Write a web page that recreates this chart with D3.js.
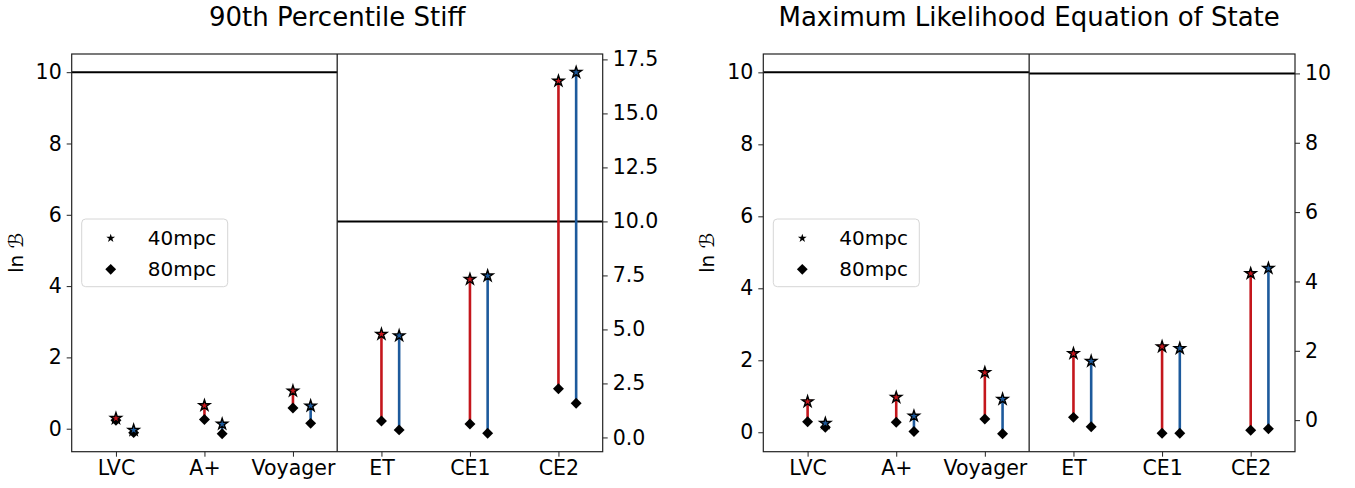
<!DOCTYPE html>
<html>
<head>
<meta charset="utf-8">
<script src="https://cdnjs.cloudflare.com/ajax/libs/d3/7.8.5/d3.min.js"></script>
<style>
body { margin: 0; background: #fff; }
text { font-family: "DejaVu Sans", sans-serif; fill: #000; }
</style>
</head>
<body>
<script>
var detectors = ["LVC", "A+", "Voyager", "ET", "CE1", "CE2"];

// 90th percentile stiff (LVC..Voyager on left axis, ET..CE2 on right axis)
var stiffRed40  = [0.29, 0.65, 1.06, 4.78, 7.32, 16.5];
var stiffRed80  = [0.24, 0.26, 0.58, 0.76, 0.62, 2.25];
var stiffBlue40 = [-0.04, 0.13, 0.64, 4.71, 7.48, 16.9];
var stiffBlue80 = [-0.11, -0.14, 0.15, 0.35, 0.19, 1.58];

// maximum likelihood EOS
var mlRed40  = [0.85, 0.97, 1.66, 1.92, 2.12, 4.23];
var mlRed80  = [0.29, 0.28, 0.37, 0.08, -0.38, -0.29];
var mlBlue40 = [0.25, 0.45, 0.92, 1.70, 2.07, 4.38];
var mlBlue80 = [0.14, 0.02, -0.04, -0.19, -0.38, -0.25];

var legendLabels = ["40mpc", "80mpc"];
var threshold = 10;

var width = 1355, height = 488;
var top_ = 54, bottom = 451.7;
var red = "#c4161c", blue = "#1d5a9c";

var svg = d3.select("body").append("svg")
    .attr("width", width)
    .attr("height", height);

var panels = [
  {title: "90th Percentile Stiff", left: 71.7, right: 602.7,
   red40: stiffRed40, red80: stiffRed80, blue40: stiffBlue40, blue80: stiffBlue80,
   yLeft: [-0.645, 10.51], yRight: [-0.66, 17.75],
   leftTicks: [0, 2, 4, 6, 8, 10], rightTicks: [0, 2.5, 5, 7.5, 10, 12.5, 15, 17.5], rightFmt: ".1f"},
  {title: "Maximum Likelihood Equation of State", left: 763.3, right: 1295,
   red40: mlRed40, red80: mlRed80, blue40: mlBlue40, blue80: mlBlue80,
   yLeft: [-0.54, 10.51], yRight: [-0.91, 10.56],
   leftTicks: [0, 2, 4, 6, 8, 10], rightTicks: [0, 2, 4, 6, 8, 10], rightFmt: "d"}
];

var star = d3.symbol().type(d3.symbolStar).size(38);
var diamond = d3.symbol().type(d3.symbolSquare).size(60);

panels.forEach(function(p) {
  var g = svg.append("g");

  var x = d3.scaleLinear().domain([-0.5, 5.5]).range([p.left, p.right]);
  var yL = d3.scaleLinear().domain(p.yLeft).range([bottom, top_]);
  var yR = d3.scaleLinear().domain(p.yRight).range([bottom, top_]);
  // first three detectors read the left axis, the rest the right one
  function yOf(i, v) { return i < 3 ? yL(v) : yR(v); }

  // threshold lines
  g.append("line")
      .attr("x1", x(-0.5)).attr("x2", x(2.5))
      .attr("y1", yL(threshold)).attr("y2", yL(threshold))
      .attr("stroke", "#000").attr("stroke-width", 2);
  g.append("line")
      .attr("x1", x(2.5)).attr("x2", x(5.5))
      .attr("y1", yR(threshold)).attr("y2", yR(threshold))
      .attr("stroke", "#000").attr("stroke-width", 2);

  g.append("line")
      .attr("x1", x(2.5)).attr("x2", x(2.5))
      .attr("y1", top_).attr("y2", bottom)
      .attr("stroke", "#222").attr("stroke-width", 1.3);

  var series = [
    {c: red, off: 0, hi: p.red40, lo: p.red80},
    {c: blue, off: 0.2, hi: p.blue40, lo: p.blue80}
  ];

  series.forEach(function(s) {
    var pts = detectors.map(function(d, i) {
      return {x: x(i + s.off), y40: yOf(i, s.hi[i]), y80: yOf(i, s.lo[i])};
    });

    g.append("g").selectAll("line")
        .data(pts)
        .enter().append("line")
        .attr("x1", function(d) { return d.x; })
        .attr("x2", function(d) { return d.x; })
        .attr("y1", function(d) { return d.y40; })
        .attr("y2", function(d) { return d.y80; })
        .attr("stroke", s.c)
        .attr("stroke-width", 2.6);

    g.append("g").selectAll("path")
        .data(pts)
        .enter().append("path")
        .attr("d", diamond)
        .attr("transform", function(d) { return "translate(" + d.x + "," + d.y80 + ") rotate(45)"; })
        .attr("fill", "#000");

    g.append("g").selectAll("path")
        .data(pts)
        .enter().append("path")
        .attr("d", star)
        .attr("transform", function(d) { return "translate(" + d.x + "," + d.y40 + ")"; })
        .attr("fill", s.c)
        .attr("stroke", "#000")
        .attr("stroke-width", 1.4);
  });

  // axes
  var xAxis = d3.axisBottom(x)
      .tickValues(d3.range(detectors.length))
      .tickFormat(function(i) { return detectors[i]; })
      .tickSize(5).tickPadding(4);
  var gx = g.append("g").attr("transform", "translate(0," + bottom + ")").call(xAxis);

  var gl = g.append("g").attr("transform", "translate(" + p.left + ",0)")
      .call(d3.axisLeft(yL).tickValues(p.leftTicks).tickFormat(d3.format("d")).tickSize(5).tickPadding(5));

  var gr = g.append("g").attr("transform", "translate(" + p.right + ",0)")
      .call(d3.axisRight(yR).tickValues(p.rightTicks).tickFormat(d3.format(p.rightFmt)).tickSize(5).tickPadding(5));

  [gx, gl, gr].forEach(function(a) {
    a.select(".domain").remove();
    a.selectAll("line").attr("stroke", "#222");
    a.selectAll("text").style("font-size", "20.5px").attr("fill", "#000");
  });

  g.append("rect")
      .attr("x", p.left).attr("y", top_)
      .attr("width", p.right - p.left).attr("height", bottom - top_)
      .attr("fill", "none").attr("stroke", "#222").attr("stroke-width", 1.2);

  g.append("text")
      .attr("x", (p.left + p.right) / 2)
      .attr("y", 26)
      .attr("text-anchor", "middle")
      .style("font-size", "26px")
      .text(p.title);

  g.append("text")
      .attr("transform", "translate(" + (p.left - 49) + "," + ((top_ + bottom) / 2) + ") rotate(-90)")
      .attr("text-anchor", "middle")
      .style("font-size", "20px")
      .text("ln \u212C");

  // legend
  var lg = g.append("g").attr("transform", "translate(" + (p.left + 10) + ",219)");
  lg.append("rect")
      .attr("width", 146).attr("height", 67.7)
      .attr("rx", 4)
      .attr("fill", "#fff").attr("fill-opacity", 0.8)
      .attr("stroke", "#d6d6d6");
  lg.append("path").attr("d", d3.symbol().type(d3.symbolStar).size(24))
      .attr("transform", "translate(29,19.3)").attr("fill", "#000");
  lg.append("path").attr("d", d3.symbol().type(d3.symbolSquare).size(58))
      .attr("transform", "translate(29,50.3) rotate(45)").attr("fill", "#000");
  lg.selectAll("text.lab")
      .data(legendLabels)
      .enter().append("text")
      .attr("class", "lab")
      .attr("x", 66)
      .attr("y", function(d, i) { return 19.3 + i * 31; })
      .attr("dy", "0.35em")
      .style("font-size", "20px")
      .text(function(d) { return d; });
});
</script>
</body>
</html>
